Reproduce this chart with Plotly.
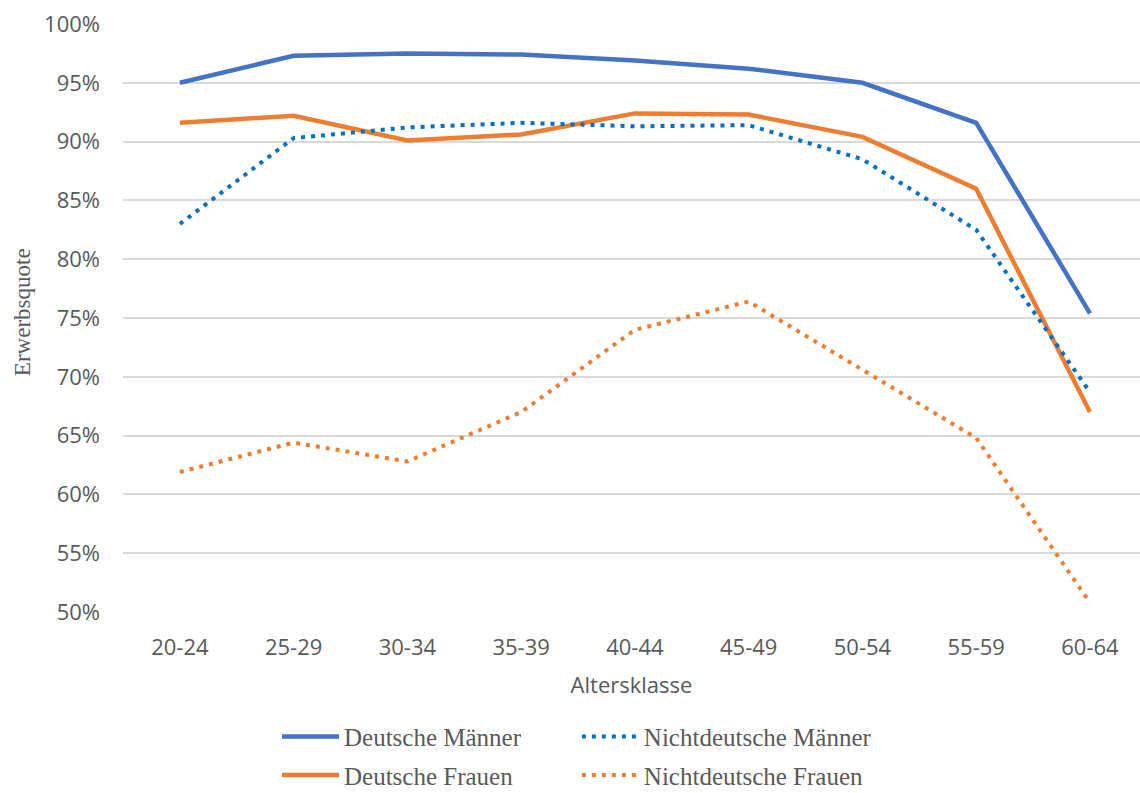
import plotly.graph_objects as go

# Age classes (x axis categories)
altersklassen = ["20-24", "25-29", "30-34", "35-39", "40-44",
                 "45-49", "50-54", "55-59", "60-64"]

# Labour force participation rates in percent
deutsche_maenner = [95.0, 97.3, 97.5, 97.4, 96.9, 96.2, 95.0, 91.6, 75.4]
nichtdeutsche_maenner = [83.0, 90.3, 91.2, 91.6, 91.3, 91.4, 88.5, 82.5, 68.7]
deutsche_frauen = [91.6, 92.2, 90.1, 90.6, 92.4, 92.3, 90.4, 86.0, 67.0]
nichtdeutsche_frauen = [61.9, 64.4, 62.8, 67.0, 74.0, 76.4, 70.6, 64.8, 50.8]

y_ticks = [50, 55, 60, 65, 70, 75, 80, 85, 90, 95, 100]
y_ticktext = [f"{v}%" for v in y_ticks]

BLUE = "#4472C4"
BLUE_DOT = "#0070C0"
ORANGE = "#ED7D31"
TICK_GREY = "#595959"
GRID_GREY = "#D9D9D9"

fig = go.Figure()

# (name, values, colour, dash, width, legend column)
series = [
    ("Deutsche Männer", deutsche_maenner, BLUE, "solid", 4.5, "legend"),
    ("Deutsche Frauen", deutsche_frauen, ORANGE, "solid", 4.5, "legend"),
    ("Nichtdeutsche Männer", nichtdeutsche_maenner, BLUE_DOT, "4px,6px", 4, "legend2"),
    ("Nichtdeutsche Frauen", nichtdeutsche_frauen, ORANGE, "4px,6px", 4, "legend2"),
]
for name, values, color, dash, width, leg in series:
    fig.add_trace(go.Scatter(
        x=altersklassen, y=values, name=name, mode="lines",
        line=dict(color=color, dash=dash, width=width),
        legend=leg, legendgroup=name,
    ))

legend_style = dict(
    orientation="v", xref="container", yref="container",
    xanchor="left", yanchor="top", y=0.1,
    itemwidth=57, tracegroupgap=3, traceorder="grouped",
    bgcolor="rgba(0,0,0,0)",
    font=dict(family="Liberation Serif", size=25, color=TICK_GREY),
)

fig.update_layout(
    width=1140, height=793,
    margin=dict(l=123, r=0, t=24, b=181, autoexpand=False),
    paper_bgcolor="white", plot_bgcolor="white",
    showlegend=True,
    legend=dict(legend_style, x=0.243),
    legend2=dict(legend_style, x=0.506),
    xaxis=dict(
        type="category", range=[-0.5, 8.44], automargin=False,
        showgrid=False, showline=False, zeroline=False, ticks="",
        tickfont=dict(family="Open Sans", size=22, color=TICK_GREY),
        ticklabelstandoff=20,
        title=dict(text="Altersklasse", standoff=17,
                   font=dict(family="Open Sans", size=22, color=TICK_GREY)),
    ),
    yaxis=dict(
        range=[50, 100], tickvals=y_ticks, ticktext=y_ticktext,
        automargin=False,
        showgrid=True, gridcolor=GRID_GREY, gridwidth=1.5,
        showline=False, zeroline=False, ticks="",
        tickfont=dict(family="Open Sans", size=22, color=TICK_GREY),
        ticklabelstandoff=22,
    ),
    annotations=[dict(
        text="Erwerbsquote", textangle=-90, showarrow=False,
        xref="paper", yref="paper", x=-0.0993, y=0.510,
        xanchor="center", yanchor="middle",
        font=dict(family="Liberation Serif", size=23, color=TICK_GREY),
    )],
)

fig.write_html("out.html")
